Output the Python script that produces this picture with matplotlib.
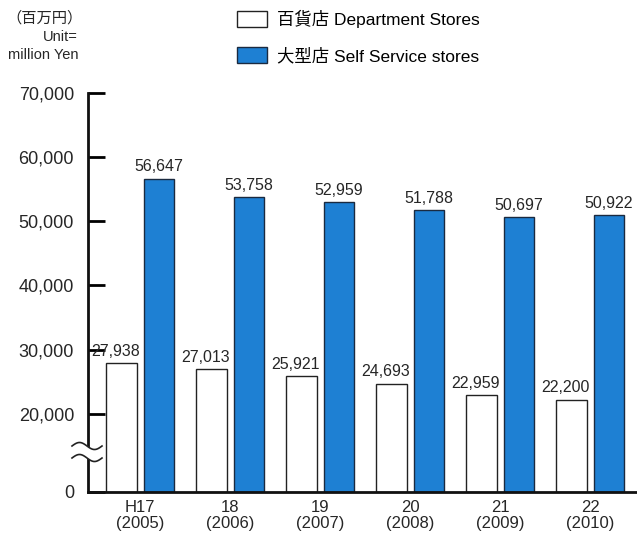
import matplotlib
matplotlib.use("Agg")
import matplotlib.pyplot as plt
import numpy as np

plt.rcParams["font.family"] = ["Liberation Sans", "Noto Sans CJK JP", "DejaVu Sans"]

# data
years = ["H17\n(2005)", "18\n(2006)", "19\n(2007)", "20\n(2008)", "21\n(2009)", "22\n(2010)"]
dept_stores = [27938, 27013, 25921, 24693, 22959, 22200]
self_service = [56647, 53758, 52959, 51788, 50697, 50922]
yticks = [0, 20000, 30000, 40000, 50000, 60000, 70000]

BLUE = "#1E80D3"
INK = "#262626"

# broken axis: below 20,000 the scale is squeezed
BREAK = 20000
LOW = 7812
SQ = (BREAK - LOW) / BREAK


def fwd(v):
    v = np.asarray(v, dtype=float)
    return np.where(v >= BREAK, v, LOW + v * SQ)


def inv(y):
    y = np.asarray(y, dtype=float)
    return np.where(y >= BREAK, y, (y - LOW) / SQ)


fig = plt.figure(figsize=(6.37, 5.33), dpi=100)
ax = fig.add_axes([0.138, 0.077, 0.862, 0.7487])
ax.set_yscale("function", functions=(fwd, inv))

x = np.arange(len(years))
w = 0.34
off = 0.21
b1 = ax.bar(x - off, dept_stores, w, color="white", edgecolor="#222222",
            linewidth=1.0, label="百貨店 Department Stores")
b2 = ax.bar(x + off, self_service, w, color=BLUE, edgecolor="#1a2a40",
            linewidth=1.0, label="大型店 Self Service stores")

for xi, v in zip(x - off, dept_stores):
    ax.annotate(f"{v:,}", (xi, v), xytext=(-4, 3), textcoords="offset points",
                ha="center", va="bottom", fontsize=11.5, color=INK)
for xi, v in zip(x + off, self_service):
    ax.annotate(f"{v:,}", (xi, v), xytext=(0, 3), textcoords="offset points",
                ha="center", va="bottom", fontsize=11.5, color=INK)

ax.set_ylim(0, 70000)
ax.set_xlim(-0.58, 5.52)
ax.set_yticks(yticks)
ax.set_yticklabels([f"{t:,}" for t in yticks], fontsize=13, color=INK)
ax.set_xticks(x)
ax.set_xticklabels(years, fontsize=12, color=INK, linespacing=1.05)
ax.tick_params(axis="y", direction="in", length=12, width=2, pad=10)
ax.tick_params(axis="x", length=0, pad=6)
for s in ["top", "right"]:
    ax.spines[s].set_visible(False)
for s in ["left", "bottom"]:
    ax.spines[s].set_linewidth(2)
    ax.spines[s].set_color("#111111")

# axis break mark (pixel coords of the figure)
xs_px = np.linspace(72, 102, 60)
ph = (xs_px - 72) / 30 * 2 * np.pi
ys1 = 533 - (446 - 3.5 * np.sin(ph))
ys2 = 533 - (458 - 3.5 * np.sin(ph))
ftr = fig.transFigure
fig.patches.append(plt.Polygon(
    np.column_stack([np.r_[xs_px, xs_px[::-1]] / 637, np.r_[ys1, ys2[::-1]] / 533]),
    closed=True, facecolor="white", edgecolor="none", transform=ftr, zorder=5))
for ys in (ys1, ys2):
    fig.lines.append(plt.Line2D(xs_px / 637, ys / 533, color="#222222", lw=1.2,
                                transform=ftr, zorder=6))

# unit label
fig.text(6 / 637, 1 - 18 / 533, "（百万円）", fontsize=11, ha="left", va="center", color=INK)
fig.text(78 / 637, 1 - 37 / 533, "Unit=", fontsize=10.5, ha="right", va="center", color=INK)
fig.text(78 / 637, 1 - 55 / 533, "million Yen", fontsize=10.5, ha="right", va="center", color=INK)

ax.legend(handles=[b1, b2], loc="upper left", bbox_to_anchor=(237 / 637, 1 - 10 / 533),
          bbox_transform=fig.transFigure, frameon=False, fontsize=12.5,
          handlelength=1.72, handleheight=1.05, handletextpad=0.57,
          labelspacing=1.1, borderpad=0, borderaxespad=0)

fig.savefig("out.png", dpi=100)
